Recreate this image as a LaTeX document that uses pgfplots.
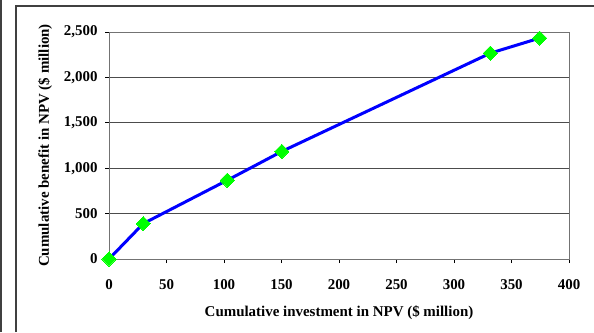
\documentclass[border=0pt]{standalone}
\usepackage{pgfplots}
\pgfplotsset{compat=1.18}
\usepackage{fontspec}
\setmainfont{Liberation Serif}
\begin{document}
\begin{tikzpicture}[x=1bp,y=1bp]
\path[use as bounding box] (0,0) rectangle (594,332);
\draw[line width=1.5bp, black!75] (1,0) -- (1,332);
\draw[line width=1.5bp, black!75] (16,0) -- (16,326) -- (594,326);
\begin{axis}[
  at={(109bp,73bp)}, anchor=south west,
  scale only axis, width=460bp, height=227bp,
  xmin=0, xmax=400, ymin=0, ymax=2500,
  xtick={0,50,...,400}, ytick={0,500,...,2500},
  ymajorgrids, major grid style={black!70, line width=0.8bp},
  axis line style={black!55, line width=0.8bp},
  tick style={black, line width=0.8bp},
  tick align=outside, major tick length=4bp,
  xtick pos=bottom, ytick pos=left,
  /pgf/number format/assume math mode=true,
  /pgf/number format/1000 sep={,},
  ticklabel style={font=\bfseries\fontsize{15}{17}\selectfont},
  label style={font=\bfseries\fontsize{15}{17}\selectfont},
  xticklabel style={yshift=-13bp},
  yticklabel style={xshift=-4bp},
  xlabel={Cumulative investment in NPV (\$ million)},
  ylabel={Cumulative benefit in NPV (\$ million)},
  xlabel style={yshift=-9bp},
  ylabel style={yshift=5bp},
  clip=false,
]
\addplot[blue, line width=3bp, mark=square*, mark size=5bp,
  mark options={fill=green, draw=green, line width=0pt, rotate=45}]
  coordinates {(0,0) (29.8,390) (102.8,867) (150.3,1185) (331.6,2267) (374.5,2433)};
\end{axis}
\end{tikzpicture}
\end{document}
